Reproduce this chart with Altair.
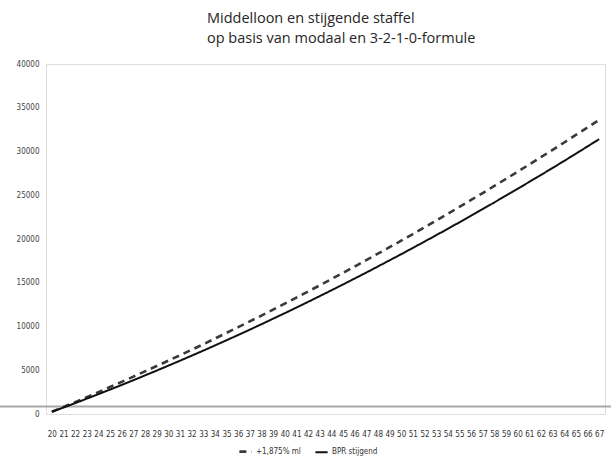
import altair as alt
import pandas as pd

# Age on the horizontal axis
ages = list(range(20, 68))

# Accumulated pension per age, flat accrual of 1.875% on average salary
ml_flat = [250, 800, 1360, 1930, 2500, 3090, 3670, 4270, 4870, 5480,
           6090, 6710, 7340, 7970, 8620, 9270, 9920, 10580, 11250, 11930,
           12610, 13300, 14000, 14700, 15410, 16130, 16850, 17580, 18320, 19060,
           19810, 20570, 21330, 22100, 22880, 23670, 24460, 25250, 26060, 26870,
           27690, 28520, 29350, 30190, 31030, 31890, 32740, 33610]

# Accumulated pension per age, rising accrual scale
bpr_rising = [250, 740, 1240, 1750, 2270, 2790, 3320, 3860, 4410, 4960,
              5520, 6090, 6660, 7240, 7830, 8430, 9030, 9640, 10260, 10890,
              11520, 12160, 12810, 13470, 14130, 14800, 15480, 16160, 16860, 17560,
              18260, 18980, 19700, 20430, 21160, 21910, 22660, 23420, 24180, 24960,
              25740, 26530, 27320, 28120, 28930, 29750, 30580, 31410]

series_names = ["+1,875% ml", "BPR stijgend"]
y_ticks = list(range(0, 40001, 5000))
baseline_value = [860]

df = pd.concat([
    pd.DataFrame({"leeftijd": ages, "waarde": ml_flat, "reeks": series_names[0]}),
    pd.DataFrame({"leeftijd": ages, "waarde": bpr_rising, "reeks": series_names[1]}),
])

W, H = 559, 350
LABEL_FONT = "DejaVu Sans Condensed, Liberation Sans, sans-serif"

x_enc = alt.X(
    "leeftijd:Q",
    scale=alt.Scale(domain=[19.5, 67.5], nice=False, zero=False),
    axis=alt.Axis(values=ages, format="d", title=None, domain=False, ticks=False,
                  grid=False, labelFont=LABEL_FONT, labelFontSize=8,
                  labelColor="#333333", labelPadding=16, labelOverlap=False,
                  labelFlush=False),
)
y_enc = alt.Y(
    "waarde:Q",
    scale=alt.Scale(domain=[0, 40000], nice=False),
    axis=alt.Axis(values=y_ticks, format="d", title=None, domain=False, ticks=False,
                  grid=False, labelFont=LABEL_FONT, labelFontSize=8,
                  labelColor="#444444", labelPadding=7),
)

legend_cfg = dict(
    title=None, orient="none", direction="horizontal",
    legendX=192, legendY=380, symbolType="stroke",
    symbolStrokeWidth=2.5, symbolSize=150, columnPadding=10,
    labelFont=LABEL_FONT, labelFontSize=8,
    labelColor="#333333", labelOffset=3,
)

lines = alt.Chart(df).mark_line(strokeCap="butt").encode(
    x=x_enc,
    y=y_enc,
    color=alt.Color(
        "reeks:N",
        scale=alt.Scale(domain=series_names, range=["#3a3a3a", "#111111"]),
        legend=alt.Legend(**legend_cfg),
    ),
    strokeDash=alt.StrokeDash(
        "reeks:N",
        scale=alt.Scale(domain=series_names, range=[[7, 5], [1, 0]]),
        legend=alt.Legend(**legend_cfg),
    ),
    strokeWidth=alt.StrokeWidth(
        "reeks:N",
        scale=alt.Scale(domain=series_names, range=[2.6, 2.0]),
        legend=None,
    ),
)

# Horizontal baseline across the full width
baseline = alt.Chart(pd.DataFrame({"v": baseline_value})).mark_rule(
    color="#a6a6a6", strokeWidth=2
).encode(
    y=alt.Y("v:Q", scale=alt.Scale(domain=[0, 40000], nice=False)),
    x=alt.value(-46),
    x2=alt.value(W + 10),
)

chart = alt.layer(baseline, lines).properties(
    width=W,
    height=H,
    title=alt.TitleParams(
        text=["Middelloon en stijgende staffel", "op basis van modaal en 3-2-1-0-formule"],
        anchor="start", align="left", dx=208, offset=14,
        font="Open Sans", fontSize=14.5, fontWeight="normal", color="#262626",
        lineHeight=20,
    ),
    autosize=alt.AutoSizeParams(type="none"),
    padding={"left": 46, "top": 64, "right": 6, "bottom": 43},
).configure_view(stroke=None).configure(background="white")

chart.save("out.html", embed_options={"renderer": "svg", "actions": False})
